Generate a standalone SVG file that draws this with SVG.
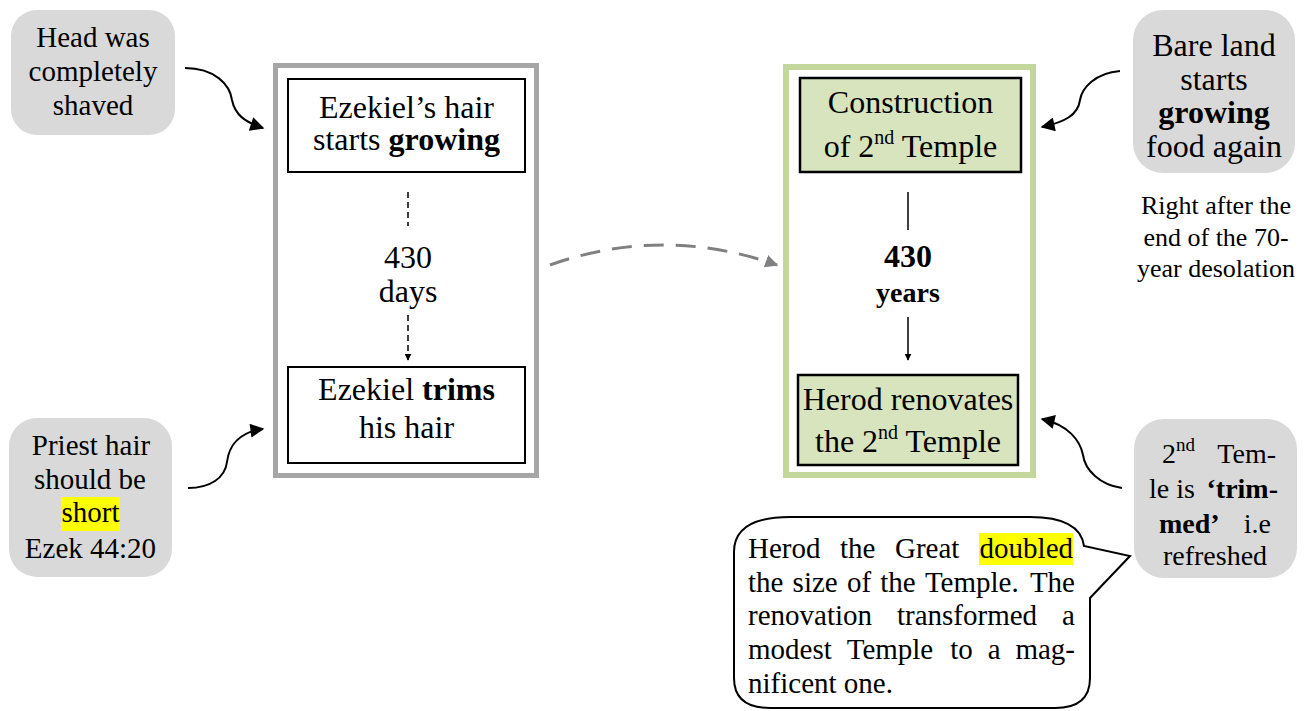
<svg xmlns="http://www.w3.org/2000/svg" width="1304" height="711" viewBox="0 0 1304 711">
<defs>
<marker id="ah" viewBox="0 0 10 10" refX="9" refY="5" markerWidth="7" markerHeight="7" markerUnits="userSpaceOnUse" orient="auto"><path d="M0,0 L10,5 L0,10 z" fill="#000"/></marker>
<marker id="ahBig" viewBox="0 0 10 10" refX="9" refY="5" markerWidth="16" markerHeight="14" markerUnits="userSpaceOnUse" orient="auto"><path d="M0,0 L10,5 L0,10 z" fill="#000"/></marker>
<marker id="ahGray" viewBox="0 0 10 10" refX="9" refY="5" markerWidth="13" markerHeight="13" markerUnits="userSpaceOnUse" orient="auto"><path d="M0,0 L10,5 L0,10 z" fill="#808080"/></marker>
</defs>

<g id="outer-left"><rect x="275.5" y="65.5" width="261" height="410" fill="#fff" stroke="#a6a6a6" stroke-width="5"/></g>
<g id="outer-right"><rect x="786" y="67" width="247" height="408" fill="#fff" stroke="#c3d69b" stroke-width="6"/></g>

<g id="hair-grows">
<rect x="288" y="79" width="237" height="93" fill="#fff" stroke="#000" stroke-width="2"/>
<text font-family="Liberation Serif" font-size="32" x="406.5" y="118" text-anchor="middle">Ezekiel&#8217;s hair</text>
<text font-family="Liberation Serif" font-size="32" x="406.5" y="150" text-anchor="middle">starts <tspan font-weight="bold">growing</tspan></text>
</g>
<g id="days-label">
<text font-family="Liberation Serif" font-size="32" x="408" y="268" text-anchor="middle">430</text>
<text font-family="Liberation Serif" font-size="32" x="408" y="302" text-anchor="middle">days</text>
</g>
<g id="hair-trim">
<rect x="288" y="367" width="237" height="96" fill="#fff" stroke="#000" stroke-width="2"/>
<text font-family="Liberation Serif" font-size="32" x="406.5" y="400" text-anchor="middle">Ezekiel <tspan font-weight="bold">trims</tspan></text>
<text font-family="Liberation Serif" font-size="32" x="406.5" y="438" text-anchor="middle">his hair</text>
</g>

<g id="temple-build">
<rect x="800" y="78" width="221" height="94" fill="#d7e4bd" stroke="#000" stroke-width="2.5"/>
<text font-family="Liberation Serif" font-size="32" x="910.5" y="113" text-anchor="middle">Construction</text>
<text font-family="Liberation Serif" font-size="32" x="910.5" y="157" text-anchor="middle">of 2<tspan font-size="20" dy="-13">nd</tspan><tspan dy="13"> Temple</tspan></text>
</g>
<g id="years-label">
<text font-family="Liberation Serif" font-size="32" font-weight="bold" x="908" y="267" text-anchor="middle">430</text>
<text font-family="Liberation Serif" font-size="28" font-weight="bold" x="908" y="302" text-anchor="middle">years</text>
</g>
<g id="temple-renovate">
<rect x="798" y="375" width="220" height="90" fill="#d7e4bd" stroke="#000" stroke-width="2.5"/>
<text font-family="Liberation Serif" font-size="32" x="908" y="410" text-anchor="middle">Herod renovates</text>
<text font-family="Liberation Serif" font-size="32" x="908" y="452" text-anchor="middle">the 2<tspan font-size="20" dy="-13">nd</tspan><tspan dy="13"> Temple</tspan></text>
</g>

<g id="callout-shaved">
<rect x="11" y="10" width="164" height="125" rx="26" fill="#d9d9d9"/>
<text font-family="Liberation Serif" font-size="29" x="93" y="47" text-anchor="middle">Head was</text>
<text font-family="Liberation Serif" font-size="29" x="93" y="81" text-anchor="middle">completely</text>
<text font-family="Liberation Serif" font-size="29" x="93" y="115" text-anchor="middle">shaved</text>
</g>

<g id="callout-priest">
<rect x="9" y="418" width="163" height="159" rx="28" fill="#d9d9d9"/>
<rect x="61" y="497" width="59" height="34" fill="#ffff00"/>
<text font-family="Liberation Serif" font-size="29" x="91" y="455" text-anchor="middle">Priest hair</text>
<text font-family="Liberation Serif" font-size="29" x="90" y="489" text-anchor="middle">should be</text>
<text font-family="Liberation Serif" font-size="29" x="90.5" y="522" text-anchor="middle">short</text>
<text font-family="Liberation Serif" font-size="29" x="90.5" y="558" text-anchor="middle">Ezek 44:20</text>
</g>

<g id="callout-land">
<rect x="1133" y="10" width="162" height="163" rx="30" fill="#d9d9d9"/>
<text font-family="Liberation Serif" font-size="32" x="1214" y="56" text-anchor="middle">Bare land</text>
<text font-family="Liberation Serif" font-size="32" x="1214" y="90" text-anchor="middle">starts</text>
<text font-family="Liberation Serif" font-size="32" font-weight="bold" x="1214" y="123" text-anchor="middle">growing</text>
<text font-family="Liberation Serif" font-size="32" x="1214" y="157" text-anchor="middle">food again</text>
</g>
<g id="note-desolation">
<text font-family="Liberation Serif" font-size="26" x="1216" y="214" text-anchor="middle">Right after the</text>
<text font-family="Liberation Serif" font-size="26" x="1216" y="246" text-anchor="middle">end of the 70-</text>
<text font-family="Liberation Serif" font-size="26" x="1216" y="277" text-anchor="middle">year desolation</text>
</g>

<g id="callout-trimmed">
<rect x="1134" y="419" width="163" height="159" rx="30" fill="#d9d9d9"/>
<text font-family="Liberation Serif" font-size="28" x="1162" y="463">2<tspan font-size="19" dy="-12">nd</tspan></text>
<text font-family="Liberation Serif" font-size="28" x="1276" y="463" text-anchor="end">Tem-</text>
<text font-family="Liberation Serif" font-size="28" x="1149" y="498">le is</text>
<text font-family="Liberation Serif" font-size="28" font-weight="bold" x="1278" y="498" text-anchor="end">&#8216;trim-</text>
<text font-family="Liberation Serif" font-size="28" font-weight="bold" x="1159" y="533">med&#8217;</text>
<text font-family="Liberation Serif" font-size="28" x="1271" y="533" text-anchor="end">i.e</text>
<text font-family="Liberation Serif" font-size="28" x="1215" y="565" text-anchor="middle">refreshed</text>
</g>

<g id="bubble-herod">
<path d="M734,552 Q734,517 790,517 L1030,517 Q1080,517 1084,546 L1130,556 L1090,598 L1090,678 Q1090,708 1055,708 L770,708 Q734,708 734,678 Z" fill="#fff" stroke="#000" stroke-width="2"/>
<rect x="979" y="533" width="94" height="32" fill="#ffff00"/>
<text font-family="Liberation Serif" font-size="29" y="558"><tspan x="748">Herod</tspan><tspan x="840">the</tspan><tspan x="895">Great</tspan><tspan x="979.6">doubled</tspan></text>
<text font-family="Liberation Serif" font-size="29" y="592"><tspan x="748">the</tspan><tspan x="792.6">size</tspan><tspan x="846.9">of</tspan><tspan x="880.3">the</tspan><tspan x="924.9">Temple.</tspan><tspan x="1029.9">The</tspan></text>
<text font-family="Liberation Serif" font-size="29" y="625"><tspan x="748">renovation</tspan><tspan x="897">transformed</tspan><tspan x="1062">a</tspan></text>
<text font-family="Liberation Serif" font-size="29" y="659"><tspan x="748">modest</tspan><tspan x="846.7">Temple</tspan><tspan x="950.2">to</tspan><tspan x="987.7">a</tspan><tspan x="1015.4">mag-</tspan></text>
<text font-family="Liberation Serif" font-size="29" x="748" y="693">nificent one.</text>
</g>

<g id="connectors" fill="none" stroke="#000">
<line x1="408" y1="192" x2="408" y2="226" stroke-width="1.5" stroke-dasharray="6,4"/>
<line x1="408" y1="315" x2="408" y2="360" stroke-width="1.5" stroke-dasharray="6,4" marker-end="url(#ah)"/>
<line x1="908" y1="192" x2="908" y2="230" stroke-width="1.5"/>
<line x1="908" y1="317" x2="908" y2="360" stroke-width="1.5" marker-end="url(#ah)"/>
<path d="M550,265 Q663,225 777,265" stroke="#808080" stroke-width="3" stroke-dasharray="20,12" marker-end="url(#ahGray)"/>
<path d="M185,68 C215,68 230,85 232,100 C235,115 245,122 263,128" stroke-width="2" marker-end="url(#ahBig)"/>
<path d="M188,488 C210,488 225,478 227,462 C229,445 240,432 263,429" stroke-width="2" marker-end="url(#ahBig)"/>
<path d="M1120,71 C1095,73 1082,88 1080,100 C1078,115 1065,122 1042,127" stroke-width="2" marker-end="url(#ahBig)"/>
<path d="M1122,488 C1100,485 1085,470 1083,455 C1080,440 1068,425 1042,419" stroke-width="2" marker-end="url(#ahBig)"/>
</g>
</svg>
